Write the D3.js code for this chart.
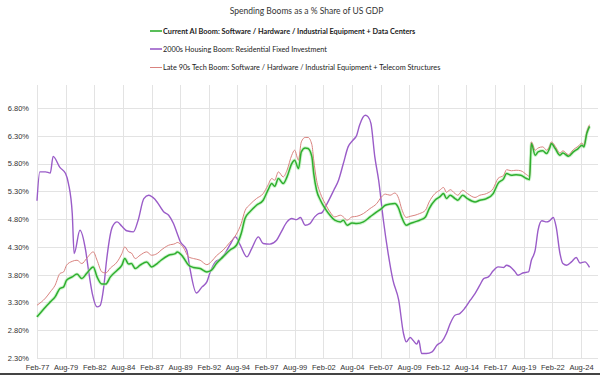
<!DOCTYPE html>
<html>
<head>
<meta charset="utf-8">
<script src="https://cdn.jsdelivr.net/npm/d3@7"></script>
<style>
  body { margin: 0; background: #fff; }
  #wrapper svg { display: block; font-family: Lato, "Open Sans", sans-serif; }
</style>
</head>
<body>
<div id="wrapper"></div>
<script>
// chart data
const chartTitle = "Spending Booms as a % Share of US GDP";

const seriesNames = [
  "Current AI Boom: Software / Hardware / Industrial Equipment + Data Centers",
  "2000s Housing Boom: Residential Fixed Investment",
  "Late 90s Tech Boom: Software / Hardware / Industrial Equipment + Telecom Structures",
];

const xTickLabels = [
  "Feb-77", "Aug-79", "Feb-82", "Aug-84", "Feb-87", "Aug-89", "Feb-92",
  "Aug-94", "Feb-97", "Aug-99", "Feb-02", "Aug-04", "Feb-07", "Aug-09",
  "Feb-12", "Aug-14", "Feb-17", "Aug-19", "Feb-22", "Aug-24",
];

const yTicks = [2.3, 2.8, 3.3, 3.8, 4.3, 4.8, 5.3, 5.8, 6.3, 6.8];

// shared dates for the AI boom and the late 90s tech boom lines
const boomDates = [
  "1977-02", "1977-11", "1978-04", "1978-09", "1979-02", "1979-06", "1979-09",
  "1980-03", "1980-08", "1981-01", "1981-06", "1982-01", "1982-05", "1982-10",
  "1983-02", "1983-07", "1984-02", "1984-07", "1984-10", "1985-02", "1985-05",
  "1985-09", "1986-02", "1986-09", "1987-02", "1987-08", "1987-12", "1988-08",
  "1989-03", "1989-05", "1989-11", "1990-05", "1990-10", "1991-05", "1991-12",
  "1992-05", "1992-10", "1993-05", "1993-12", "1994-07", "1994-12", "1995-04",
  "1995-09", "1996-04", "1996-11", "1997-04", "1997-08", "1997-11", "1998-03",
  "1998-08", "1998-12", "1999-05", "1999-08", "1999-12", "2000-03", "2000-07",
  "2000-10", "2001-02", "2001-04", "2001-07", "2001-11", "2002-04", "2002-09",
  "2003-02", "2003-08", "2003-11", "2004-03", "2004-08", "2005-01", "2005-08",
  "2006-03", "2006-10", "2007-03", "2007-07", "2007-12", "2008-05", "2008-09",
  "2008-12", "2009-05", "2009-09", "2010-02", "2010-07", "2011-01", "2011-05",
  "2011-11", "2012-04", "2012-08", "2012-11", "2013-03", "2013-08", "2013-11",
  "2014-04", "2014-09", "2015-05", "2015-10", "2016-05", "2016-12", "2017-05",
  "2017-11", "2018-02", "2018-07", "2018-12", "2019-05", "2019-11", "2020-02",
  "2020-04", "2020-08", "2020-11", "2021-04", "2021-08", "2021-11", "2022-01",
  "2022-05", "2022-10", "2023-01", "2023-07", "2023-12", "2024-05", "2024-09",
  "2024-11", "2025-02", "2025-05",
];

const aiBoomValues = [
  3.04, 3.22, 3.31, 3.40, 3.55, 3.58, 3.70,
  3.76, 3.81, 3.73, 3.82, 3.94, 3.76, 3.63,
  3.63, 3.76, 3.88, 3.97, 4.09, 3.99, 4.00,
  3.91, 3.97, 4.03, 3.94, 4.00, 4.06, 4.15,
  4.18, 4.21, 4.12, 3.97, 3.93, 3.91, 3.85,
  3.88, 4.00, 4.12, 4.24, 4.33, 4.54, 4.81,
  4.93, 5.05, 5.14, 5.32, 5.44, 5.39, 5.53,
  5.44, 5.56, 5.80, 5.86, 5.71, 6.01, 6.08,
  6.07, 5.92, 5.62, 5.32, 5.14, 4.99, 4.87,
  4.78, 4.75, 4.78, 4.69, 4.73, 4.72, 4.75,
  4.84, 4.93, 4.99, 5.05, 5.07, 5.08, 4.99,
  4.84, 4.69, 4.72, 4.75, 4.78, 4.84, 4.99,
  5.14, 5.20, 5.26, 5.17, 5.23, 5.17, 5.14,
  5.23, 5.17, 5.11, 5.14, 5.17, 5.26, 5.44,
  5.53, 5.62, 5.59, 5.60, 5.59, 5.53, 5.51,
  6.16, 5.95, 6.01, 6.03, 5.98, 6.07, 6.16,
  6.07, 5.95, 5.99, 5.93, 6.01, 6.07, 6.13,
  6.10, 6.34, 6.47,
];

const techBoomValues = [
  3.25, 3.38, 3.49, 3.61, 3.82, 3.85, 3.97,
  4.04, 4.06, 4.00, 4.09, 4.21, 4.06, 3.85,
  3.83, 3.92, 4.03, 4.18, 4.30, 4.21, 4.19,
  4.09, 4.15, 4.21, 4.15, 4.18, 4.24, 4.33,
  4.36, 4.38, 4.30, 4.12, 4.09, 4.06, 3.98,
  4.04, 4.14, 4.24, 4.38, 4.53, 4.72, 4.95,
  5.06, 5.17, 5.26, 5.41, 5.53, 5.50, 5.65,
  5.56, 5.68, 5.95, 6.04, 5.86, 6.19, 6.27,
  6.27, 6.14, 5.86, 5.50, 5.26, 5.08, 4.93,
  4.84, 4.87, 4.84, 4.78, 4.84, 4.85, 4.90,
  4.99, 5.08, 5.20, 5.25, 5.23, 5.27, 5.17,
  4.99, 4.83, 4.85, 4.87, 4.90, 4.96, 5.11,
  5.26, 5.32, 5.37, 5.28, 5.33, 5.26, 5.23,
  5.32, 5.26, 5.19, 5.23, 5.26, 5.35, 5.53,
  5.59, 5.69, 5.67, 5.68, 5.67, 5.60, 5.57,
  6.19, 6.04, 6.08, 6.10, 6.04, 6.11, 6.19,
  6.11, 5.99, 6.03, 5.96, 6.05, 6.11, 6.17,
  6.13, 6.37, 6.50,
];

const housingDates = [
  "1977-02", "1977-05", "1977-11", "1978-04", "1978-07", "1979-02", "1979-08",
  "1979-11", "1980-03", "1980-05", "1980-11", "1981-05", "1981-08", "1981-12",
  "1982-05", "1982-08", "1982-12", "1983-03", "1983-09", "1984-02", "1984-07",
  "1984-12", "1985-07", "1985-12", "1986-06", "1986-11", "1987-06", "1988-03",
  "1988-08", "1989-01", "1989-05", "1989-08", "1990-03", "1990-06", "1991-01",
  "1991-07", "1991-12", "1992-03", "1992-09", "1993-02", "1993-07", "1993-12",
  "1994-06", "1994-11", "1995-06", "1995-11", "1996-06", "1996-11", "1997-06",
  "1998-01", "1998-06", "1998-12", "1999-05", "1999-10", "2000-02", "2000-07",
  "2000-12", "2001-05", "2001-09", "2001-12", "2002-06", "2003-01", "2003-06",
  "2003-11", "2004-04", "2004-09", "2005-01", "2005-04", "2005-10", "2006-01",
  "2006-04", "2006-08", "2006-12", "2007-05", "2007-10", "2008-03", "2008-09",
  "2009-02", "2009-05", "2009-09", "2009-12", "2010-04", "2010-06", "2010-09",
  "2011-02", "2011-08", "2012-01", "2012-06", "2012-11", "2013-03", "2013-08",
  "2014-01", "2014-06", "2014-12", "2015-05", "2015-10", "2016-02", "2016-07",
  "2016-12", "2017-05", "2017-11", "2018-02", "2018-06", "2018-11", "2019-02",
  "2019-07", "2020-01", "2020-04", "2020-08", "2020-11", "2021-03", "2021-08",
  "2021-11", "2022-03", "2022-06", "2022-10", "2023-01", "2023-05", "2023-10",
  "2024-03", "2024-07", "2024-12", "2025-05",
];

const housingValues = [
  5.13, 5.65, 5.65, 5.63, 5.93, 5.73, 5.62,
  5.44, 4.90, 4.18, 4.60, 4.24, 3.88, 3.46,
  3.22, 3.24, 3.58, 4.06, 4.66, 4.75, 4.67,
  4.59, 4.57, 4.78, 5.17, 5.23, 5.15, 4.93,
  4.87, 4.72, 4.54, 4.40, 4.24, 3.94, 3.47,
  3.58, 3.67, 3.82, 4.03, 4.08, 4.18, 4.33,
  4.48, 4.33, 4.12, 4.27, 4.48, 4.36, 4.35,
  4.42, 4.57, 4.75, 4.81, 4.79, 4.83, 4.69,
  4.72, 4.84, 4.90, 4.91, 5.08, 5.32, 5.50,
  5.80, 6.10, 6.22, 6.31, 6.49, 6.67, 6.64,
  6.52, 5.92, 5.50, 4.78, 4.18, 3.70, 3.34,
  2.74, 2.59, 2.67, 2.62, 2.55, 2.62, 2.38,
  2.38, 2.41, 2.53, 2.59, 2.74, 2.92, 3.07,
  3.10, 3.19, 3.34, 3.46, 3.61, 3.73, 3.76,
  3.87, 3.94, 3.93, 3.97, 3.94, 3.85, 3.79,
  3.83, 3.85, 4.06, 4.24, 4.60, 4.77, 4.75,
  4.77, 4.83, 4.66, 4.18, 4.00, 3.97, 4.03,
  4.11, 4.01, 4.03, 3.93,
];

const seriesColors = ["#2fae2f", "#9a5cc8", "#d9837f"];

// shrink/grow a text's font size until it spans the given width
function fitText(selection, targetWidth) {
  selection.each(function (d, i) {
    const el = d3.select(this);
    const w = typeof targetWidth == "function" ? targetWidth(d, i) : targetWidth;
    const size = +el.attr("font-size");
    const len = this.getComputedTextLength();
    if (len > 0) el.attr("font-size", (size * w) / len);
  });
}

async function drawChart() {
  // 1. Access data
  const parseMonth = d3.timeParse("%Y-%m");
  const parseTick = d3.timeParse("%b-%y");

  const aiData = boomDates.map((d, i) => ({ date: parseMonth(d), value: aiBoomValues[i] }));
  const techData = boomDates.map((d, i) => ({ date: parseMonth(d), value: techBoomValues[i] }));
  const housingData = housingDates.map((d, i) => ({ date: parseMonth(d), value: housingValues[i] }));

  const dateAccessor = (d) => d.date;
  const valueAccessor = (d) => d.value;

  // 2. Create chart dimensions
  let dimensions = {
    width: 600,
    height: 375,
    margin: {
      top: 85,
      right: 2,
      bottom: 17,
      left: 37,
    },
  };
  dimensions.boundedWidth =
    dimensions.width - dimensions.margin.left - dimensions.margin.right;
  dimensions.boundedHeight =
    dimensions.height - dimensions.margin.top - dimensions.margin.bottom;

  // 3. Draw canvas
  const wrapper = d3
    .select("#wrapper")
    .append("svg")
    .attr("width", dimensions.width)
    .attr("height", dimensions.height);

  const bounds = wrapper
    .append("g")
    .attr("transform", `translate(${dimensions.margin.left}, ${dimensions.margin.top})`);

  // 4. Create scales
  const tickDates = xTickLabels.map(parseTick);

  // first tick sits on the left edge, last labelled tick at x = 581
  const xScale = d3
    .scaleTime()
    .domain([tickDates[0], tickDates[tickDates.length - 1]])
    .range([0, 544]);

  const yScale = d3
    .scaleLinear()
    .domain([2.3, 6.8])
    .range([dimensions.boundedHeight, dimensions.boundedHeight - 250]);

  // 5. Draw peripherals (grid first so the lines sit on top)
  const grid = bounds.append("g").attr("class", "grid");

  grid
    .selectAll(".h-grid")
    .data(yTicks)
    .join("line")
    .attr("class", "h-grid")
    .attr("x1", 0)
    .attr("x2", dimensions.boundedWidth)
    .attr("y1", (d) => Math.round(yScale(d)) + 0.5)
    .attr("y2", (d) => Math.round(yScale(d)) + 0.5)
    .attr("stroke", "#e3e3e3")
    .attr("stroke-width", 1);

  grid
    .selectAll(".v-grid")
    .data(tickDates)
    .join("line")
    .attr("class", "v-grid")
    .attr("x1", (d) => Math.round(xScale(d)) + 0.5)
    .attr("x2", (d) => Math.round(xScale(d)) + 0.5)
    .attr("y1", 0)
    .attr("y2", dimensions.boundedHeight)
    .attr("stroke", "#e3e3e3")
    .attr("stroke-width", 1);

  const yAxisGenerator = d3
    .axisLeft(yScale)
    .tickValues(yTicks)
    .tickSize(0)
    .tickPadding(8)
    .tickFormat((d) => d3.format(".2f")(d) + "%");

  const yAxis = bounds.append("g").call(yAxisGenerator);
  yAxis.select(".domain").remove();
  yAxis.selectAll("text").attr("font-size", 7.5).attr("fill", "#333");

  const xAxisGenerator = d3
    .axisBottom(xScale)
    .tickValues(tickDates)
    .tickSize(0)
    .tickPadding(7)
    .tickFormat((d, i) => xTickLabels[i]);

  const xAxis = bounds
    .append("g")
    .attr("transform", `translate(0, ${dimensions.boundedHeight})`)
    .call(xAxisGenerator);
  xAxis.select(".domain").remove();
  xAxis.selectAll("text").attr("font-size", 7.5).attr("fill", "#333");

  // 6. Draw data
  const lineGenerator = d3
    .line()
    .x((d) => xScale(dateAccessor(d)))
    .y((d) => yScale(valueAccessor(d)))
    .curve(d3.curveMonotoneX);

  const lines = bounds.append("g");

  lines
    .append("path")
    .attr("d", lineGenerator(housingData))
    .attr("fill", "none")
    .attr("stroke", seriesColors[1])
    .attr("stroke-width", 1.4);

  // soft glow under the AI boom line
  lines
    .append("path")
    .attr("d", lineGenerator(aiData))
    .attr("fill", "none")
    .attr("stroke", "#a8eca5")
    .attr("stroke-width", 3.4)
    .attr("opacity", 0.55);

  lines
    .append("path")
    .attr("d", lineGenerator(techData))
    .attr("fill", "none")
    .attr("stroke", seriesColors[2])
    .attr("stroke-width", 1);

  lines
    .append("path")
    .attr("d", lineGenerator(aiData))
    .attr("fill", "none")
    .attr("stroke", seriesColors[0])
    .attr("stroke-width", 1.5);

  // title + legend
  wrapper
    .append("text")
    .attr("x", 306.5)
    .attr("y", 13.5)
    .attr("text-anchor", "middle")
    .attr("font-size", 9.5)
    .attr("fill", "#333")
    .text(chartTitle)
    .call(fitText, 154);

  const legendWidths = [253, 164, 278];

  const legend = wrapper
    .selectAll(".legend")
    .data(seriesNames)
    .join("g")
    .attr("class", "legend")
    .attr("transform", (d, i) => `translate(150, ${[31, 49, 67.5][i]})`);

  legend
    .append("line")
    .attr("x1", 0)
    .attr("x2", 12)
    .attr("stroke", (d, i) => seriesColors[i])
    .attr("stroke-width", (d, i) => (i == 2 ? 1 : 1.6));

  legend
    .append("text")
    .attr("x", 13)
    .attr("y", 2.5)
    .attr("font-size", 7)
    .attr("font-weight", (d, i) => (i == 0 ? 700 : 400))
    .attr("fill", "#222")
    .text((d) => d)
    .call(fitText, (d, i) => legendWidths[i]);

  // dark strip along the bottom edge of the screenshot
  wrapper
    .append("rect")
    .attr("x", 0)
    .attr("y", 373)
    .attr("width", dimensions.width)
    .attr("height", 2)
    .attr("fill", "#444");
}
drawChart();
</script>
</body>
</html>
